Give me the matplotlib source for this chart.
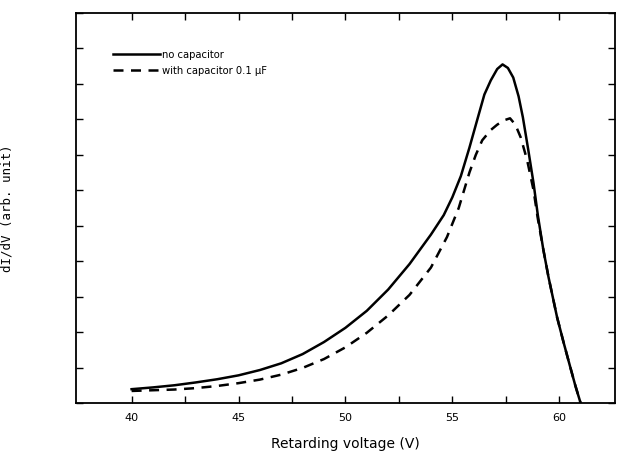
import matplotlib.pyplot as plt
import numpy as np

# Valores (V, unidades arbitrarias)
v_solid = [40.0, 41.0, 42.0, 43.0, 44.0, 45.0, 46.0, 47.0, 48.0, 49.0, 50.0,
           51.0, 52.0, 53.0, 54.0, 54.6, 55.0, 55.4, 55.8, 56.2, 56.5,
           56.8, 57.1, 57.35, 57.6, 57.85, 58.1, 58.3, 58.55, 58.8, 59.0,
           59.25, 59.5, 59.9, 60.2, 60.5, 60.75, 61.0]
y_solid = [0.39, 0.44, 0.50, 0.58, 0.67, 0.78, 0.93, 1.12, 1.38, 1.72, 2.12,
           2.6, 3.2, 3.92, 4.75, 5.3, 5.8, 6.4, 7.2, 8.06, 8.7,
           9.1, 9.42, 9.55, 9.45, 9.18, 8.65, 8.06, 7.15, 6.2, 5.3,
           4.35, 3.55, 2.42, 1.72, 1.05, 0.5, 0.0]

v_dash = [40.0, 41.0, 42.0, 43.0, 44.0, 45.0, 46.0, 47.0, 48.0, 49.0, 50.0,
          51.0, 52.0, 53.0, 54.0, 54.75, 55.3, 55.8, 56.1, 56.4, 56.8,
          57.1, 57.4, 57.7, 57.95, 58.2, 58.5, 58.8, 59.0, 59.25, 59.5, 59.9,
          60.2, 60.5, 60.75, 61.0]
y_dash = [0.34, 0.36, 0.38, 0.42, 0.48, 0.56, 0.66, 0.80, 0.99, 1.24, 1.57,
          1.98, 2.47, 3.05, 3.82, 4.68, 5.5, 6.5, 7.0, 7.41, 7.7,
          7.85, 7.97, 8.03, 7.85, 7.49, 6.85, 6.0, 5.2, 4.35, 3.55, 2.42,
          1.72, 1.05, 0.5, 0.0]

labels = ['no capacitor', 'with capacitor 0.1 \u03bcF']

fig = plt.figure(figsize=(6.2, 4.61), dpi=100)
ax = fig.add_axes([0.1226, 0.1258, 0.869, 0.846])

ax.plot(v_solid, y_solid, color='black', lw=1.8, label=labels[0])
ax.plot(v_dash, y_dash, color='black', lw=1.8, linestyle=(0, (4, 3)), label=labels[1])

ax.set_xlim(37.4, 62.6)
ax.set_ylim(0, 11)
ax.set_xticks([40, 45, 50, 55, 60])
ax.set_xticks(np.arange(42.5, 60, 5), minor=True)
ax.set_yticks(range(0, 12))
ax.set_yticklabels([])
ax.tick_params(which='both', direction='in', top=True, right=True,
               length=5, width=1, labelsize=8, pad=7)
for s in ax.spines.values():
    s.set_linewidth(1.3)

ax.set_xlabel('Retarding voltage (V)', fontsize=10, labelpad=10)
ax.set_ylabel('dI/dV (arb. unit)', fontsize=9, labelpad=38, family='DejaVu Sans Mono')

leg = ax.legend(loc='upper left', bbox_to_anchor=(0.05, 0.93), frameon=False,
                handlelength=4.2, handletextpad=0.2, labelspacing=0.5,
                prop={'size': 8, 'stretch': 'condensed'})

plt.savefig('out.png', dpi=100)
